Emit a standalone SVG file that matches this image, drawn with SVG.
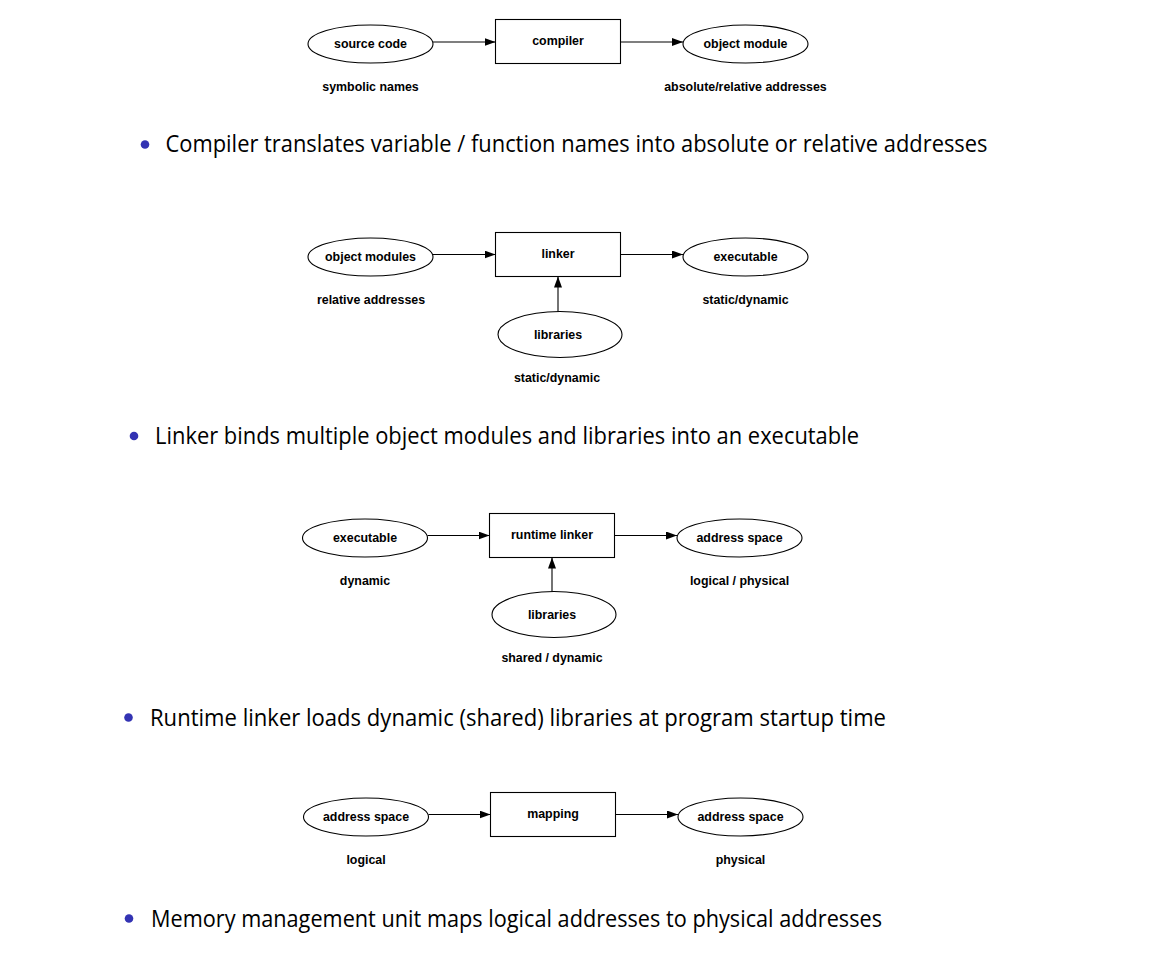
<svg xmlns="http://www.w3.org/2000/svg" width="1162" height="954" viewBox="0 0 1162 954">
<defs>
<marker id="arr" viewBox="0 0 11 8" refX="11" refY="4" markerWidth="11" markerHeight="8" markerUnits="userSpaceOnUse" orient="auto">
<path d="M0,0 L11,4 L0,8 Z" fill="#000"/>
</marker>
<style>
.n ellipse, .n rect { fill: #fff; stroke: #000; stroke-width: 1.1; }
.t { font-family: "Liberation Sans", Arial, sans-serif; font-weight: bold; font-size: 12.4px; text-anchor: middle; fill: #000; }
.b { font-family: "Open Sans", "Liberation Sans", sans-serif; font-size: 23px; fill: #000; }
.dot { fill: #3333b3; }
.c line { stroke: #000; stroke-width: 1.1; marker-end: url(#arr); }
</style>
</defs>
<rect width="1162" height="954" fill="#fff"/>

<!-- Diagram 1 -->
<g id="d1-source" class="n"><ellipse cx="370.5" cy="44" rx="62.5" ry="19"/><text class="t" x="370.5" y="48">source code</text></g>
<g id="d1-compiler" class="n"><rect x="495.5" y="19.5" width="125" height="44"/><text class="t" x="558" y="45">compiler</text></g>
<g id="d1-object" class="n"><ellipse cx="745.5" cy="44" rx="62.5" ry="19"/><text class="t" x="745.5" y="48">object module</text></g>
<text class="t" x="370.5" y="91">symbolic names</text>
<text class="t" x="745.5" y="91">absolute/relative addresses</text>

<!-- Diagram 2 -->
<g id="d2-objmods" class="n"><ellipse cx="370.5" cy="257" rx="62.5" ry="19"/><text class="t" x="370.5" y="261">object modules</text></g>
<g id="d2-linker" class="n"><rect x="495.5" y="232.5" width="125" height="44"/><text class="t" x="558" y="258">linker</text></g>
<g id="d2-exec" class="n"><ellipse cx="745.5" cy="257" rx="62.5" ry="19"/><text class="t" x="745.5" y="261">executable</text></g>
<g id="d2-libs" class="n"><ellipse cx="560" cy="334.5" rx="62" ry="23"/><text class="t" x="558" y="338.5">libraries</text></g>
<text class="t" x="371" y="303.5">relative addresses</text>
<text class="t" x="745.5" y="303.5">static/dynamic</text>
<text class="t" x="557" y="382">static/dynamic</text>

<!-- Diagram 3 -->
<g id="d3-exec" class="n"><ellipse cx="365" cy="538" rx="62.5" ry="19"/><text class="t" x="365" y="542">executable</text></g>
<g id="d3-rtlinker" class="n"><rect x="489.5" y="513.5" width="125" height="44"/><text class="t" x="552" y="539">runtime linker</text></g>
<g id="d3-aspace" class="n"><ellipse cx="739.5" cy="538" rx="62.5" ry="19"/><text class="t" x="739.5" y="542">address space</text></g>
<g id="d3-libs" class="n"><ellipse cx="554" cy="614.5" rx="62" ry="23"/><text class="t" x="552" y="618.5">libraries</text></g>
<text class="t" x="365" y="584.5">dynamic</text>
<text class="t" x="739.5" y="584.5">logical / physical</text>
<text class="t" x="552" y="662">shared / dynamic</text>

<!-- Diagram 4 -->
<g id="d4-aspace-l" class="n"><ellipse cx="366" cy="817" rx="62.5" ry="19"/><text class="t" x="366" y="821">address space</text></g>
<g id="d4-mapping" class="n"><rect x="490.5" y="792.5" width="125" height="44"/><text class="t" x="553" y="818">mapping</text></g>
<g id="d4-aspace-p" class="n"><ellipse cx="740.5" cy="817" rx="62.5" ry="19"/><text class="t" x="740.5" y="821">address space</text></g>
<text class="t" x="366" y="863.5">logical</text>
<text class="t" x="740.5" y="863.5">physical</text>

<!-- Connectors -->
<g id="connectors" class="c">
<line x1="433" y1="42" x2="495.5" y2="42"/>
<line x1="620.5" y1="42" x2="683" y2="42"/>
<line x1="433" y1="254.5" x2="495.5" y2="254.5"/>
<line x1="620.5" y1="254.5" x2="683" y2="254.5"/>
<line x1="558" y1="311.5" x2="558" y2="276.5"/>
<line x1="427.5" y1="535.5" x2="489.5" y2="535.5"/>
<line x1="614.5" y1="535.5" x2="677" y2="535.5"/>
<line x1="552" y1="591.5" x2="552" y2="557.5"/>
<line x1="428.5" y1="814.5" x2="490.5" y2="814.5"/>
<line x1="615.5" y1="814.5" x2="678" y2="814.5"/>
</g>

<!-- Bullets -->
<circle class="dot" cx="145" cy="144.5" r="4.3"/>
<text class="b" x="165.5" y="152" textLength="822" lengthAdjust="spacingAndGlyphs">Compiler translates variable / function names into absolute or relative addresses</text>
<circle class="dot" cx="134" cy="436" r="4.3"/>
<text class="b" x="155" y="443.5" textLength="704" lengthAdjust="spacingAndGlyphs">Linker binds multiple object modules and libraries into an executable</text>
<circle class="dot" cx="128.5" cy="717.5" r="4.3"/>
<text class="b" x="150" y="725.5" textLength="736" lengthAdjust="spacingAndGlyphs">Runtime linker loads dynamic (shared) libraries at program startup time</text>
<circle class="dot" cx="129" cy="918.5" r="4.3"/>
<text class="b" x="151" y="926.5" textLength="731" lengthAdjust="spacingAndGlyphs">Memory management unit maps logical addresses to physical addresses</text>
</svg>
